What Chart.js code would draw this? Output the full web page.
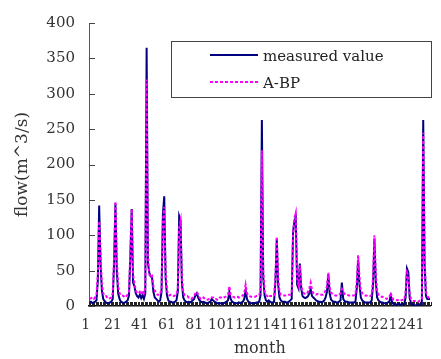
<!DOCTYPE html>
<html>
<head>
<meta charset="utf-8">
<script src="https://cdn.jsdelivr.net/npm/chart.js@4.4.1/dist/chart.umd.min.js"></script>
<style>
  html, body { margin: 0; padding: 0; background: #fff; }
  #wrap { width: 441px; height: 359px; }
</style>
</head>
<body>
<div id="wrap"><canvas id="flowChart" width="441" height="359"></canvas></div>
<script>
// monthly flow, 21 years x 12 months
const measured = [
  5, 6, 4, 5, 6, 8, 35, 142, 60, 22, 10, 7,
  5, 4, 4, 5, 6, 10, 60, 145, 50, 18, 10, 6,
  5, 4, 5, 6, 8, 15, 70, 137, 33, 28, 18, 14,
  12, 16, 11, 15, 10, 18, 365, 60, 47, 42, 40, 20,
  12, 10, 8, 6, 8, 20, 130, 155, 40, 15, 8, 6,
  6, 5, 5, 6, 8, 20, 127, 121, 33, 12, 8, 6,
  5, 6, 5, 6, 8, 10, 15, 18, 12, 8, 6, 5,
  6, 5, 4, 4, 5, 6, 10, 8, 6, 5, 4, 4,
  4, 4, 3, 4, 5, 6, 8, 20, 10, 6, 5, 4,
  4, 4, 5, 4, 5, 6, 10, 22, 10, 6, 5, 4,
  4, 4, 4, 5, 5, 6, 15, 263, 40, 15, 8, 6,
  8, 6, 5, 5, 6, 35, 95, 30, 12, 8, 6, 6,
  6, 5, 5, 6, 8, 10, 104, 120, 125, 30, 25, 60,
  25, 14, 12, 11, 12, 14, 18, 24, 14, 12, 10, 8,
  7, 6, 6, 5, 6, 8, 12, 20, 45, 18, 9, 7,
  6, 6, 5, 5, 6, 8, 33, 10, 7, 6, 6, 5,
  5, 5, 5, 5, 6, 25, 65, 30, 12, 8, 6, 5,
  5, 5, 5, 5, 8, 30, 95, 35, 12, 8, 6, 5,
  5, 4, 4, 4, 5, 6, 14, 6, 3, 2, 2, 2,
  3, 2, 2, 3, 3, 12, 53, 48, 12, 4, 2, 1,
  1, 0, 1, 2, 3, 3, 263, 60, 14, 10, 10, 10
];

const abp = [
  10, 11, 12, 10, 12, 15, 45, 120, 75, 30, 18, 14,
  14, 12, 10, 11, 12, 18, 70, 148, 65, 28, 18, 15,
  15, 14, 12, 14, 16, 20, 80, 137, 45, 32, 22, 18,
  18, 20, 16, 22, 18, 25, 320, 70, 45, 40, 42, 28,
  22, 18, 16, 16, 16, 25, 120, 140, 50, 22, 16, 15,
  16, 15, 14, 15, 16, 25, 110, 120, 40, 20, 15, 14,
  14, 12, 12, 10, 12, 14, 18, 20, 16, 12, 10, 10,
  12, 10, 9, 9, 10, 10, 12, 12, 10, 10, 9, 9,
  12, 12, 11, 12, 13, 14, 16, 28, 16, 14, 13, 12,
  13, 13, 12, 13, 14, 15, 18, 30, 18, 15, 14, 13,
  13, 13, 13, 14, 14, 15, 22, 220, 50, 22, 16, 14,
  16, 14, 14, 14, 15, 40, 98, 40, 20, 16, 15, 15,
  15, 15, 15, 16, 16, 18, 100, 125, 132, 38, 30, 58,
  30, 20, 18, 17, 17, 20, 25, 33, 22, 18, 17, 16,
  17, 16, 16, 16, 16, 18, 22, 28, 47, 26, 19, 17,
  16, 15, 15, 15, 16, 18, 24, 20, 17, 16, 16, 15,
  15, 15, 15, 15, 16, 35, 72, 40, 22, 18, 16, 15,
  15, 14, 14, 14, 16, 40, 100, 45, 22, 16, 14, 13,
  13, 12, 11, 10, 11, 12, 19, 12, 9, 8, 8, 8,
  9, 8, 8, 9, 9, 20, 47, 42, 18, 10, 8, 7,
  7, 6, 6, 7, 8, 10, 245, 70, 20, 14, 12, 14
];

const months = measured.map((v, i) => String(i + 1));
const xTickLabels = ['1', '21', '41', '61', '81', '101', '121', '141', '161', '181', '201', '221', '241'];
const yTicks = [0, 50, 100, 150, 200, 250, 300, 350, 400];
const seriesNames = ['measured value', 'A-BP'];

const serifFont = '"DejaVu Serif", serif';

// inside tick marks (Excel style)
const insideTicks = {
    id: 'insideTicks',
    beforeDatasetsDraw(chart) {
        const ctx = chart.ctx;
        const x = chart.scales.x;
        const y = chart.scales.y;
        const area = chart.chartArea;
        ctx.save();
        ctx.strokeStyle = '#222';
        ctx.lineWidth = 1;
        const half = (x.getPixelForValue(1) - x.getPixelForValue(0)) / 2;
        ctx.beginPath();
        for (let i = 0; i <= months.length; i++) {
            const px = Math.round(x.getPixelForValue(i) - half) + 0.5;
            ctx.moveTo(px, area.bottom);
            ctx.lineTo(px, area.bottom - 4);
        }
        ctx.stroke();
        ctx.strokeStyle = '#444';
        ctx.beginPath();
        yTicks.forEach(v => {
            const py = Math.round(y.getPixelForValue(v)) + 0.5;
            ctx.moveTo(area.left, py);
            ctx.lineTo(area.left + 6, py);
        });
        ctx.stroke();
        ctx.restore();
    }
};

// legend box inside the plot
const legendBox = {
    id: 'legendBox',
    afterDraw(chart) {
        const ctx = chart.ctx;
        const ds = chart.data.datasets;
        ctx.save();
        ctx.fillStyle = '#fff';
        ctx.fillRect(171, 41, 260, 56);
        ctx.strokeStyle = '#444';
        ctx.lineWidth = 1;
        ctx.strokeRect(171.5, 41.5, 260, 56);
        const rows = [55, 82];
        ds.forEach((d, i) => {
            ctx.strokeStyle = d.borderColor;
            ctx.lineWidth = d.borderWidth;
            ctx.setLineDash(d.borderDash || []);
            ctx.beginPath();
            ctx.moveTo(210, rows[i]);
            ctx.lineTo(258, rows[i]);
            ctx.stroke();
            ctx.setLineDash([]);
            ctx.fillStyle = '#222';
            ctx.font = '15px ' + serifFont;
            ctx.textBaseline = 'middle';
            ctx.fillText(d.label, 263, rows[i] + 2);
        });
        ctx.restore();
    }
};

new Chart(document.getElementById('flowChart'), {
    type: 'line',
    data: {
        labels: months,
        datasets: [{
            label: seriesNames[0],
            data: measured,
            borderColor: '#000080',
            borderWidth: 2,
            pointRadius: 0,
            tension: 0,
            order: 2
        }, {
            label: seriesNames[1],
            data: abp,
            borderColor: '#ff00ff',
            borderWidth: 2,
            borderDash: [3, 2],
            pointRadius: 0,
            tension: 0,
            order: 1
        }]
    },
    options: {
        responsive: false,
        animation: false,
        layout: { padding: { top: 19, right: 0, bottom: 0, left: 0 } },
        plugins: {
            legend: { display: false },
            tooltip: { enabled: false }
        },
        scales: {
            x: {
                type: 'category',
                offset: true,
                grid: { display: false, drawTicks: false },
                border: { display: true, color: '#000', width: 1.5 },
                ticks: {
                    autoSkip: false,
                    maxRotation: 0,
                    minRotation: 0,
                    padding: 11,
                    labelOffset: -4,
                    color: '#333',
                    font: { family: serifFont, size: 14 },
                    callback: function (val) {
                        const lab = this.getLabelForValue(val);
                        return xTickLabels.includes(lab) ? lab : '';
                    }
                },
                title: {
                    display: true,
                    text: 'month',
                    color: '#333',
                    font: { family: serifFont, size: 16 },
                    padding: { top: 0, bottom: 1 }
                },
                afterFit: (s) => { s.height = 53; }
            },
            y: {
                min: 0,
                max: 400,
                grid: { display: false, drawTicks: false },
                border: { display: true, color: '#555', width: 1 },
                ticks: {
                    stepSize: 50,
                    padding: 14,
                    color: '#333',
                    font: { family: serifFont, size: 15 }
                },
                title: {
                    display: true,
                    text: 'flow(m^3/s)',
                    color: '#333',
                    font: { family: serifFont, size: 17 },
                    padding: { top: 12, bottom: 0 }
                },
                afterFit: (s) => { s.width = 89; }
            }
        }
    },
    plugins: [insideTicks, legendBox]
});
</script>
</body>
</html>
